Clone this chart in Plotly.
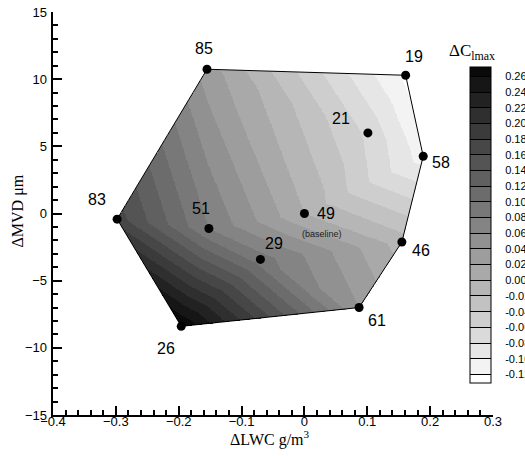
import numpy as np
import plotly.graph_objects as go

# ---- data ----
run_ids = ["85", "19", "21", "58", "83", "49", "51", "29", "46", "61", "26"]
d_lwc = [-0.155, 0.161, 0.101, 0.189, -0.298, 0.0, -0.152, -0.070, 0.155, 0.087, -0.196]
d_mvd = [10.74, 10.29, 6.0, 4.26, -0.42, 0.0, -1.12, -3.42, -2.12, -7.0, -8.4]
d_clmax = [0.03, -0.125, -0.065, -0.11, 0.17, 0.0, 0.08, 0.09, -0.01, 0.04, 0.28]

levels = [round(-0.12 + 0.02 * i, 2) for i in range(20)]  # -0.12 .. 0.26
level_labels = ["\u2002\u2002%.2f" % v for v in levels]

# triangulation (indices into the lists above) and hull order
triangles = [(0, 1, 2), (1, 3, 2), (0, 2, 5), (2, 3, 5), (3, 8, 5), (0, 5, 6),
             (0, 6, 4), (4, 6, 10), (6, 7, 10), (6, 5, 7), (5, 8, 7), (7, 8, 9),
             (7, 9, 10)]
hull = [0, 1, 3, 8, 9, 10, 4, 0]

# ---- linear interpolation on triangles ----
X = np.array(d_lwc); Y = np.array(d_mvd); V = np.array(d_clmax)
gx = np.linspace(X.min(), X.max(), 520)
gy = np.linspace(Y.min(), Y.max(), 460)
GX, GY = np.meshgrid(gx, gy)
Z = np.full(GX.shape, np.nan)
for a, b, c in triangles:
    x1, y1, x2, y2, x3, y3 = X[a], Y[a], X[b], Y[b], X[c], Y[c]
    det = (y2 - y3) * (x1 - x3) + (x3 - x2) * (y1 - y3)
    l1 = ((y2 - y3) * (GX - x3) + (x3 - x2) * (GY - y3)) / det
    l2 = ((y3 - y1) * (GX - x3) + (x1 - x3) * (GY - y3)) / det
    l3 = 1 - l1 - l2
    m = (l1 >= -1e-9) & (l2 >= -1e-9) & (l3 >= -1e-9)
    Z[m] = (l1 * V[a] + l2 * V[b] + l3 * V[c])[m]

# ---- stepped grayscale ----
zmin, zmax = -0.131, 0.272
bounds = [zmin] + levels + [zmax]
nb = len(bounds) - 1
colorscale = []
for k in range(nb):
    kt = nb - 1 - k  # index from top
    g = int(round(10 + kt * 245 / (nb - 1)))
    col = "rgb(%d,%d,%d)" % (g, g, g)
    p0 = (bounds[k] - zmin) / (zmax - zmin)
    p1 = (bounds[k + 1] - zmin) / (zmax - zmin)
    colorscale.append([p0, col])
    colorscale.append([p1, col])
colorscale[0][0] = 0.0
colorscale[-1][0] = 1.0

SERIF = "Times New Roman, Liberation Serif, DejaVu Serif, serif"

fig = go.Figure()
fig.add_trace(go.Heatmap(
    x=gx, y=gy, z=Z, zmin=zmin, zmax=zmax, colorscale=colorscale,
    hoverongaps=False,
    colorbar=dict(
        x=0.948, xanchor="left", xpad=0, y=0.0794, yanchor="bottom", ypad=0,
        len=316, lenmode="pixels", thickness=21, thicknessmode="pixels",
        outlinewidth=1, outlinecolor="black",
        tickvals=levels, ticktext=level_labels,
        ticks="inside", ticklen=21, tickwidth=1, tickcolor="black",
        tickfont=dict(family="Arial", size=11, color="black"),
    ),
))

fig.add_trace(go.Scatter(
    x=[d_lwc[i] for i in hull], y=[d_mvd[i] for i in hull], mode="lines",
    line=dict(color="black", width=1), hoverinfo="skip", showlegend=False))

fig.add_trace(go.Scatter(
    x=d_lwc, y=d_mvd, mode="markers",
    marker=dict(color="black", size=9), showlegend=False))

offsets = {"85": (-3, 21), "19": (8, 19), "21": (-27, 14), "58": (18, -6),
           "83": (-20, 20), "49": (22, 0), "51": (-8, 20), "29": (14, 16),
           "46": (19, -9), "61": (18, -13), "26": (-15, -22)}
for rid, xv, yv in zip(run_ids, d_lwc, d_mvd):
    dx, dy = offsets[rid]
    fig.add_annotation(x=xv, y=yv, text=rid, showarrow=False, xshift=dx, yshift=dy,
                       font=dict(family="Arial", size=16, color="black"))
fig.add_annotation(x=d_lwc[5], y=d_mvd[5], text="(baseline)", showarrow=False,
                   xshift=18, yshift=-20, font=dict(family="Arial", size=9, color="#222"))

# axis titles and colorbar title
fig.add_annotation(xref="paper", yref="paper", x=0.493, y=0, yanchor="middle",
                   yshift=-23, text="ΔLWC g/m<sup>3</sup>", showarrow=False,
                   font=dict(family=SERIF, size=16, color="black"))
fig.add_annotation(xref="paper", yref="paper", x=0, y=0.505, xanchor="center",
                   xshift=-35, text="ΔMVD μm", textangle=-90, showarrow=False,
                   font=dict(family=SERIF, size=16, color="black"))
fig.add_annotation(xref="paper", yref="paper", x=0.895, xanchor="left", y=1,
                   yanchor="middle", yshift=-40, text="ΔC<sub>lmax</sub>", showarrow=False,
                   font=dict(family=SERIF, size=17, color="black"))

axis_common = dict(showline=True, linecolor="black", linewidth=2, ticks="inside",
                   ticklen=9, tickwidth=2, tickcolor="black", showgrid=False,
                   zeroline=False, automargin=False, ticklabeloverflow="allow",
                   tickfont=dict(family="Arial", size=13, color="black"))
fig.update_xaxes(range=[-0.4, 0.3], dtick=0.1, tick0=0, ticklabelstandoff=-7,
                 minor=dict(dtick=0.02, ticks="inside", ticklen=5, tickwidth=1.5, tickcolor="black"),
                 **axis_common)
fig.update_yaxes(range=[-15, 15], dtick=5, tick0=0, ticklabelstandoff=-3,
                 ticksuffix="\u2004",
                 minor=dict(dtick=1, ticks="inside", ticklen=5, tickwidth=1.5, tickcolor="black"),
                 **axis_common)
fig.update_layout(width=525, height=456,
                  margin=dict(l=53, r=32, t=12, b=41, autoexpand=False),
                  plot_bgcolor="white", paper_bgcolor="white", showlegend=False)
# remove the default 8 px page margin so the figure fills the window exactly
fig.write_html("out.html", config={"displayModeBar": False},
               post_script="document.body.style.margin='0px';")
